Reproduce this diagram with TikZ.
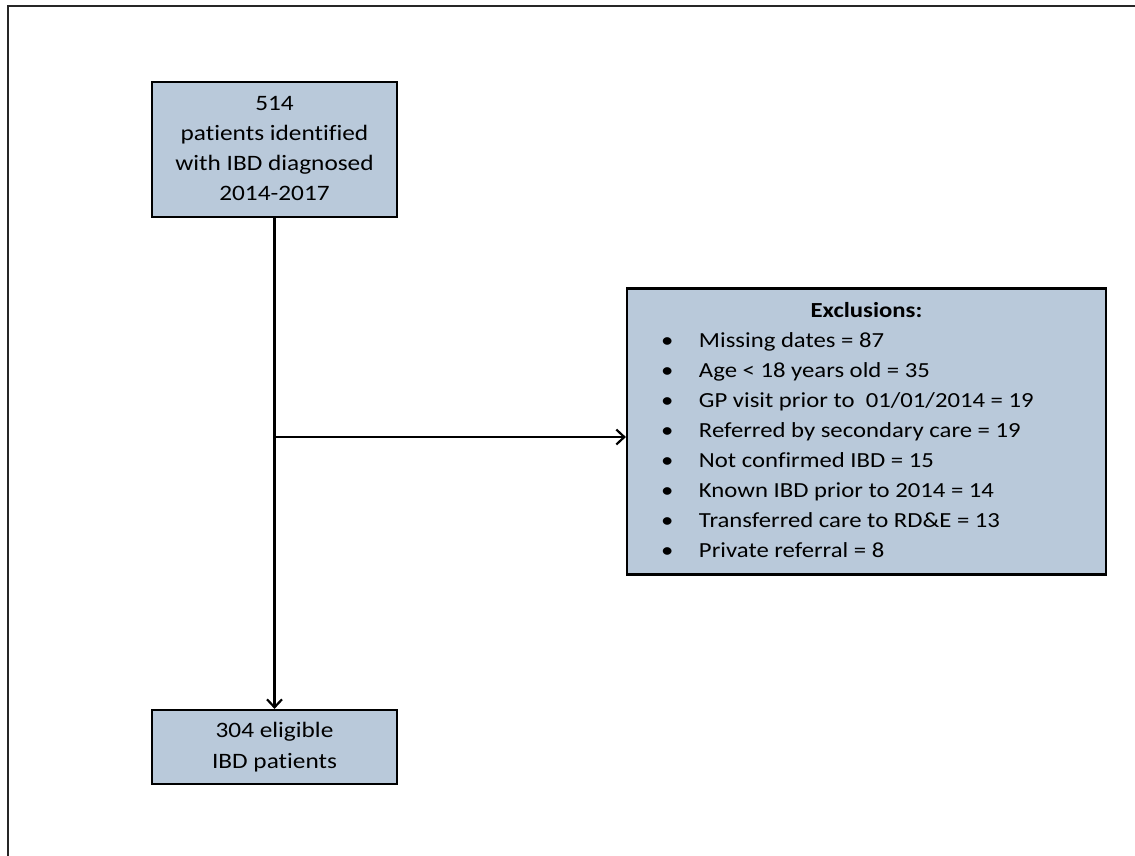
\documentclass[tikz,border=0pt]{standalone}
\usepackage{fontspec}
\usepackage{graphicx}
\setmainfont{Carlito}[Ligatures={NoCommon}]
\usetikzlibrary{arrows.meta}
\definecolor{boxfill}{RGB}{185,201,218}
\newcommand\hstretch[1]{\scalebox{1.15}[1]{#1}}
\begin{document}
\begin{tikzpicture}[x=1pt,y=-1pt,
  flowbox/.style={draw=black, line width=2.2pt, fill=boxfill, align=center,
    inner sep=0pt, font=\fontsize{22}{30.1}\selectfont},
  conn/.style={draw=black, line width=2.2pt},
  arr/.style={conn, -{Straight Barb[length=8pt,width=15pt,line width=2.2pt]}}]
\useasboundingbox (0,0) rectangle (1135,855);
\fill[white] (0,0) rectangle (1135,855);
\draw[line width=2pt, black!85] (8,856) -- (8,6) -- (1136,6);
\node[flowbox, minimum width=245pt, minimum height=135pt] (top) at (274.5,149.5)
  {\hstretch{\begin{tabular}{@{}c@{}}514\\patients identified\\with IBD diagnosed\\2014-2017\end{tabular}}};
\node[flowbox, minimum width=245pt, minimum height=74pt] (bot) at (274.5,747)
  {\hstretch{\begin{tabular}{@{}c@{}}304 eligible\\IBD patients\end{tabular}}};
\node[flowbox, minimum width=479pt, minimum height=286pt,
  font=\fontsize{21.5}{30.1}\selectfont] (exc) at (866.5,431.5)
  {\hstretch{\begin{tabular}{@{}p{33.04pt}@{}p{324.35pt}@{}}
   \multicolumn{2}{@{}c@{}}{\bfseries Exclusions:}\\
   \textbullet & Missing dates = 87\\
   \textbullet & Age < 18 years old = 35\\
   \textbullet & GP visit prior to\ \ 01/01/2014 = 19\\
   \textbullet & Referred by secondary care = 19\\
   \textbullet & Not confirmed IBD = 15\\
   \textbullet & Known IBD prior to 2014 = 14\\
   \textbullet & Transferred care to RD\&E = 13\\
   \textbullet & Private referral = 8
   \end{tabular}}};
\coordinate (junc) at (274.5,437);
\draw[arr] (top.south) -- (bot.north);
\draw[arr] (junc) -- (junc -| exc.west);
\end{tikzpicture}
\end{document}
